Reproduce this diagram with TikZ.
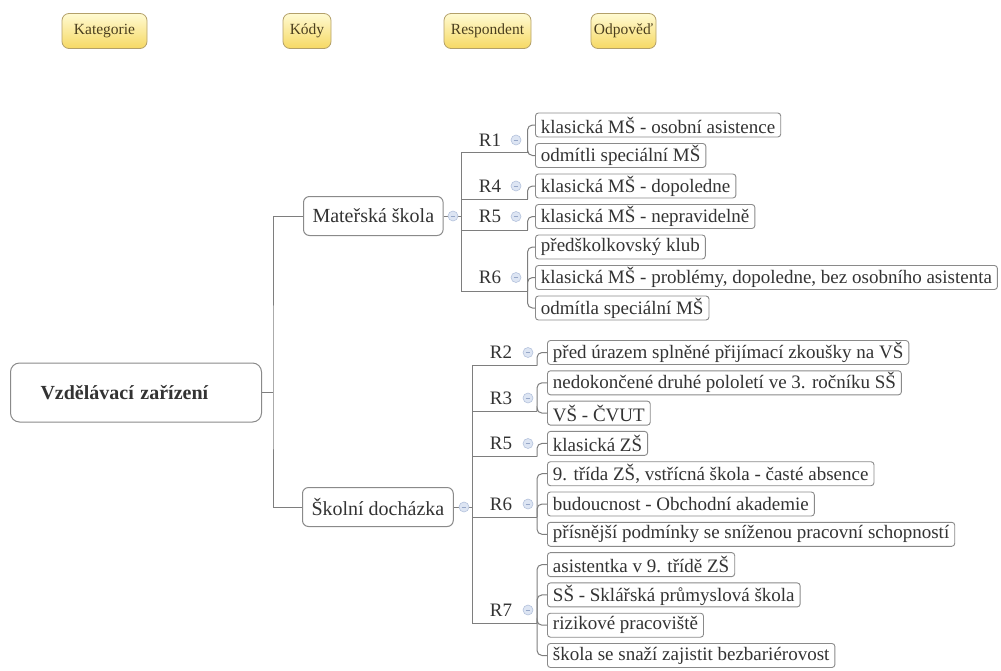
\documentclass[tikz,border=0pt]{standalone}
\usepackage{fontspec}
\setmainfont{Liberation Serif}[Ligatures=TeX]
\newfontfamily\treefont{Liberation Serif}
\definecolor{linegray}{HTML}{7E7E7E}
\definecolor{boxgray}{HTML}{8A8A8A}
\definecolor{textgray}{HTML}{333333}
\definecolor{hdrtop}{HTML}{FFFAD2}
\definecolor{hdrbot}{HTML}{F6D964}
\definecolor{hdrline}{HTML}{B3A06A}
\definecolor{hdrtext}{HTML}{4A3E1E}
\definecolor{btnfill}{HTML}{DDE5F3}
\definecolor{btnline}{HTML}{B4C2DC}
\definecolor{btnmark}{HTML}{96A7C8}
\newcommand\foldbtn[2]{%
  \node[btn] (#1) at (#2) {};
  \draw[btnmarkline] ([xshift=-2.4pt]#1.center) -- ([xshift=2.4pt]#1.center);}
\begin{document}
\begin{tikzpicture}[x=1pt,y=-1pt,
  conn/.style={draw=linegray, line width=1pt},
  bracket/.style={conn, rounded corners=5pt},
  hdr/.style={draw=hdrline, line width=0.8pt, rounded corners=7pt,
    top color=hdrtop, bottom color=hdrbot, text=hdrtext,
    font=\treefont\fontsize{15.5}{17}\selectfont, inner xsep=3pt,
    minimum height=35pt},
  rootbox/.style={draw=boxgray, line width=1pt, rounded corners=9pt, fill=white,
    text=textgray, font=\treefont\fontsize{20}{22}\selectfont\bfseries,
    text width=191pt, align=left, inner xsep=30pt, minimum height=59pt,
    anchor=west},
  midbox/.style={draw=boxgray, line width=1pt, rounded corners=6pt, fill=white,
    text=textgray, font=\treefont\fontsize{20}{22}\selectfont, inner xsep=9pt,
    minimum height=39pt, anchor=west},
  leaf/.style={draw=boxgray, line width=0.9pt, rounded corners=3pt, fill=white,
    text=textgray, font=\treefont\fontsize{19}{21}\selectfont, inner xsep=5.5pt,
    inner ysep=0pt, minimum height=24pt, anchor=west},
  rlab/.style={text=textgray, font=\treefont\fontsize{19}{21}\selectfont, inner sep=0pt},
  btn/.style={circle, draw=btnline, fill=btnfill, line width=0.6pt,
    minimum size=10pt, inner sep=0pt},
  btnmarkline/.style={draw=btnmark, line width=0.9pt}
]
\useasboundingbox (0,0) rectangle (1001,670);

% column headings
\node[hdr, minimum width=85pt] (hk) at (104.5,31) {Kategorie};
\node[hdr, minimum width=48pt] (hc) at (307,31) {Kódy};
\node[hdr, minimum width=87pt] (hr) at (487.5,31) {Respondent};
\node[hdr, minimum width=62pt] (ho) at (623.5,31) {Odpověď};

% root and the two categories
\node[rootbox] (root) at (10,392.5) {Vzdělávací zařízení};
\node[midbox] (ms) at (303,216) {Mateřská škola};
\node[midbox] (sd) at (302,507) {Školní docházka};
\coordinate (rs) at (273,392.5);
\draw[conn] (root.east) -- (rs);
\draw[conn] (ms.west) -| (rs) |- (sd.west);

% ---------- Mateřská škola ----------
\coordinate (tsp) at (461,216);
\coordinate (u1a) at (461,152);   \coordinate (u1b) at (527.5,152);
\coordinate (u4a) at (461,199);   \coordinate (u4b) at (527.5,199);
\coordinate (u5a) at (461,230);   \coordinate (u5b) at (527.5,230);
\coordinate (u6a) at (461,291);   \coordinate (u6b) at (527.5,291);
\draw[conn] (ms.east) -- (tsp);
\draw[conn] (u1b) -- (u1a) -- (u6a) -- (u6b);
\draw[conn] (u4a) -- (u4b);
\draw[conn] (u5a) -- (u5b);
\foldbtn{msb}{453,216}

\node[rlab] (r1) at (490,140) {R1};
\node[rlab] (r4) at (490,186) {R4};
\node[rlab] (r5) at (490,216.5) {R5};
\node[rlab] (r6) at (490,277.5) {R6};
\foldbtn{r1b}{516,140}
\foldbtn{r4b}{516,186}
\foldbtn{r5b}{516,216.5}
\foldbtn{r6b}{516,277.5}

\node[leaf] (m1) at (535,125)   {klasická MŠ - osobní asistence};
\node[leaf] (m2) at (535,155.5) {odmítli speciální MŠ};
\node[leaf] (m3) at (535,186)   {klasická MŠ - dopoledne};
\node[leaf] (m4) at (535,216.5) {klasická MŠ - nepravidelně};
\node[leaf] (m5) at (535,247)   {předškolkovský klub};
\node[leaf] (m6) at (535,277.5) {klasická MŠ - problémy, dopoledne, bez osobního asistenta};
\node[leaf] (m7) at (535,308)   {odmítla speciální MŠ};

\draw[bracket] (u1b) |- (m1.west);
\draw[bracket] (u1b) |- (m2.west);
\draw[bracket] (u4b) |- (m3.west);
\draw[bracket] (u5b) |- (m4.west);
\draw[bracket] (u6b) |- (m5.west);
\draw[bracket] (u6b) |- (m6.west);
\draw[bracket] (u6b) |- (m7.west);

% ---------- Školní docházka ----------
\coordinate (bsp) at (472,507);
\coordinate (v2a) at (472,365.5); \coordinate (v2b) at (537,365.5);
\coordinate (v3a) at (472,411);   \coordinate (v3b) at (537,411);
\coordinate (v5a) at (472,456.5); \coordinate (v5b) at (537,456.5);
\coordinate (v6a) at (472,517);   \coordinate (v6b) at (537,517);
\coordinate (v7a) at (472,623);   \coordinate (v7b) at (537,623);
\draw[conn] (sd.east) -- (bsp);
\draw[conn] (v2b) -- (v2a) -- (v7a) -- (v7b);
\draw[conn] (v3a) -- (v3b);
\draw[conn] (v5a) -- (v5b);
\draw[conn] (v6a) -- (v6b);
\foldbtn{sdb}{464,507}

\node[rlab] (q2) at (501,352.5) {R2};
\node[rlab] (q3) at (501,398)   {R3};
\node[rlab] (q5) at (501,443.5) {R5};
\node[rlab] (q6) at (501,504)   {R6};
\node[rlab] (q7) at (501,610)   {R7};
\foldbtn{q2b}{528,352.5}
\foldbtn{q3b}{528,398}
\foldbtn{q5b}{528,443.5}
\foldbtn{q6b}{528,504}
\foldbtn{q7b}{528,610}

\node[leaf] (s1)  at (547,352.5) {před úrazem splněné přijímací zkoušky na VŠ};
\node[leaf] (s2)  at (547,382.8) {nedokončené druhé pololetí ve 3. ročníku SŠ};
\node[leaf] (s3)  at (547,413.1) {VŠ - ČVUT};
\node[leaf] (s4)  at (547,443.4) {klasická ZŠ};
\node[leaf] (s5)  at (547,473.7) {9. třída ZŠ, vstřícná škola - časté absence};
\node[leaf] (s6)  at (547,504)   {budoucnost - Obchodní akademie};
\node[leaf] (s7)  at (547,534.3) {přísnější podmínky se sníženou pracovní schopností};
\node[leaf] (s8)  at (547,564.6) {asistentka v 9. třídě ZŠ};
\node[leaf] (s9)  at (547,594.9) {SŠ - Sklářská průmyslová škola};
\node[leaf] (s10) at (547,625.2) {rizikové pracoviště};
\node[leaf] (s11) at (547,655.5) {škola se snaží zajistit bezbariérovost};

\draw[bracket] (v2b) |- (s1.west);
\draw[bracket] (v3b) |- (s2.west);
\draw[bracket] (v3b) |- (s3.west);
\draw[bracket] (v5b) |- (s4.west);
\draw[bracket] (v6b) |- (s5.west);
\draw[bracket] (v6b) |- (s6.west);
\draw[bracket] (v6b) |- (s7.west);
\draw[bracket] (v7b) |- (s8.west);
\draw[bracket] (v7b) |- (s9.west);
\draw[bracket] (v7b) |- (s10.west);
\draw[bracket] (v7b) |- (s11.west);
\end{tikzpicture}
\end{document}
